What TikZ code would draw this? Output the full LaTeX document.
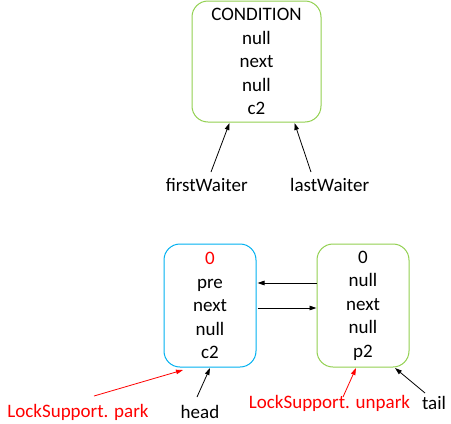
\documentclass[tikz,border=0pt]{standalone}
\usepackage{fontspec}
\setmainfont{Carlito}
\usetikzlibrary{arrows.meta}
\definecolor{boxgreen}{RGB}{146,208,80}
\definecolor{boxblue}{RGB}{0,176,240}
\begin{document}
\begin{tikzpicture}[x=1pt,y=-1pt,
  every node/.style={font=\fontsize{19}{23.5}\selectfont, inner sep=0pt},
  box/.style={draw, line width=1pt, rounded corners=16pt, align=center, minimum width=92pt, minimum height=123pt},
  lbl/.style={anchor=center},
  ptr/.style={line width=0.8pt, -{Triangle[length=7pt,width=4.5pt]}}
]
\useasboundingbox (0,0) rectangle (451,424);
% top
\node[box, draw=boxgreen, minimum width=129pt, minimum height=121pt] (cond) at (256.5,61.5) {CONDITION\\null\\next\\null\\c2};
\node[lbl] (fw) at (206.7,185) {firstWaiter};
\node[lbl] (lw) at (329.7,185) {lastWaiter};
\coordinate (fws) at (211,172);
\coordinate (lws) at (311,172);
\coordinate (fwt) at (229.5,123);
\coordinate (lwt) at (294.5,123);
\draw[ptr] (fws) -- (fwt);
\draw[ptr] (lws) -- (lwt);
% bottom
\node[box, draw=boxblue] (hd) at (210,305.5) {\textcolor{red}{0}\\pre\\next\\null\\c2};
\node[box, draw=boxgreen] (tl) at (363,305.5) {0\\null\\next\\null\\p2};
\draw[ptr] ([yshift=22.5pt]tl.west) -- ([yshift=22.5pt,xshift=1pt]hd.east);
\draw[ptr] ([yshift=-2.5pt,xshift=1pt]hd.east) -- ([yshift=-2.5pt]tl.west);
\node[lbl, text=red] (park) at (78,412) {LockSupport. park};
\node[lbl] (head) at (200,412) {head};
\node[lbl, text=red] (unpark) at (329.5,403) {LockSupport. unpark};
\node[lbl] (tail) at (434,403) {tail};
\coordinate (parks) at (94,396);
\coordinate (heads) at (197,397);
\coordinate (unparks) at (343,397);
\coordinate (tails) at (425,393);
\coordinate (parkt) at (183,370);
\coordinate (headt) at (210,368);
\coordinate (unparkt) at (356,368);
\coordinate (tailt) at (395,368);
\draw[ptr, red] (parks) -- (parkt);
\draw[ptr] (heads) -- (headt);
\draw[ptr, red] (unparks) -- (unparkt);
\draw[ptr] (tails) -- (tailt);
\end{tikzpicture}
\end{document}
